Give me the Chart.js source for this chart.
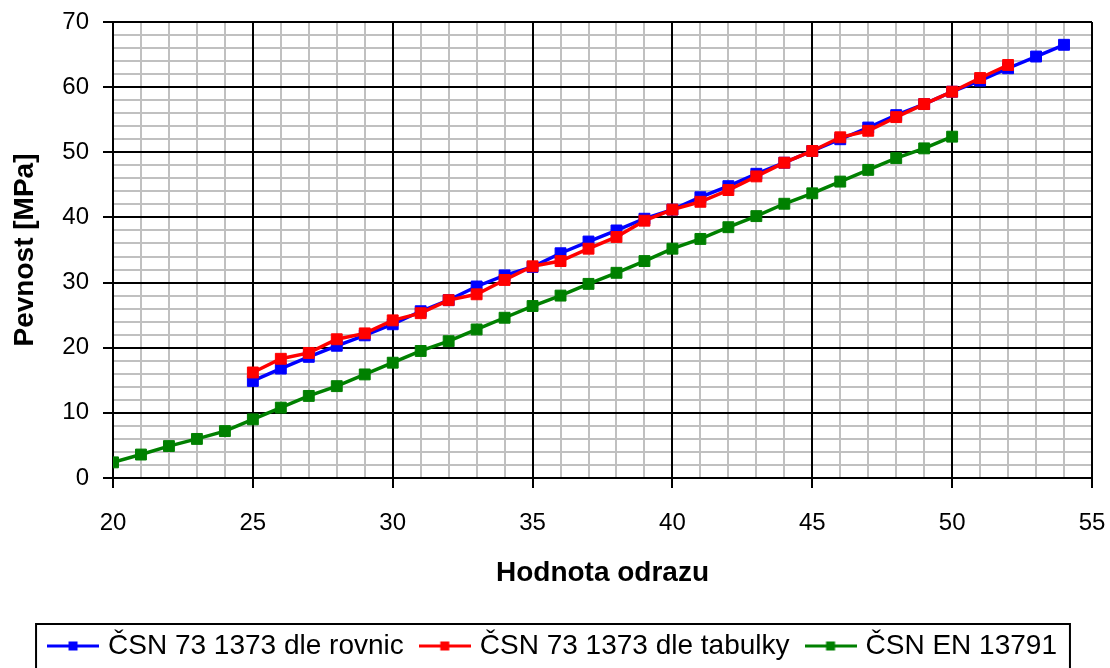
<!DOCTYPE html>
<html>
<head>
<meta charset="utf-8">
<style>
html,body{margin:0;padding:0;background:#fff;overflow:hidden}
#c{display:block}
</style>
<script src="https://cdn.jsdelivr.net/npm/chart.js@4/dist/chart.umd.min.js"></script>
</head>
<body>
<canvas id="c" width="1110" height="670"></canvas>
<script>
// ---- data ----
const seriesNames = ['ČSN 73 1373 dle rovnic', 'ČSN 73 1373 dle tabulky', 'ČSN EN 13791'];
const rovniceX = [25,26,27,28,29,30,31,32,33,34,35,36,37,38,39,40,41,42,43,44,45,46,47,48,49,50,51,52,53,54];
const rovniceY = [14.9,16.8,18.6,20.3,21.9,23.6,25.6,27.3,29.4,31.1,32.4,34.5,36.3,38.0,39.8,41.2,43.1,44.8,46.7,48.4,50.2,52.0,53.8,55.7,57.4,59.3,61.0,62.9,64.7,66.5];
const tabulkaX = [25,26,27,28,29,30,31,32,33,34,35,36,37,38,39,40,41,42,43,44,45,46,47,48,49,50,51,52];
const tabulkaY = [16.2,18.3,19.2,21.3,22.2,24.2,25.3,27.3,28.2,30.4,32.5,33.3,35.2,37.0,39.5,41.2,42.4,44.2,46.3,48.4,50.2,52.3,53.3,55.4,57.4,59.3,61.4,63.4];
const enX = [20,21,22,23,24,25,26,27,28,29,30,31,32,33,34,35,36,37,38,39,40,41,42,43,44,45,46,47,48,49,50];
const enY = [2.4,3.6,4.9,6.0,7.2,9.0,10.8,12.6,14.1,15.9,17.7,19.5,21.0,22.8,24.6,26.4,28.0,29.8,31.5,33.3,35.2,36.7,38.5,40.2,42.1,43.7,45.5,47.3,49.1,50.6,52.4];
const xTickLabels = [20,25,30,35,40,45,50,55];
const yTickLabels = [0,10,20,30,40,50,60,70];
const xTitle = 'Hodnota odrazu';
const yTitle = 'Pevnost [MPa]';

const colors = ['#0000FF', '#FF0000', '#008000'];
const toPts = (xs, ys) => xs.map((x, i) => ({x: x, y: ys[i]}));

Chart.defaults.font.family = "'Liberation Sans', Arial, sans-serif";
Chart.defaults.color = '#000';

function legendMarker(color) {
  const cv = document.createElement('canvas');
  cv.width = 52; cv.height = 12;
  const g = cv.getContext('2d');
  g.strokeStyle = color; g.lineWidth = 3;
  g.beginPath(); g.moveTo(0, 6); g.lineTo(52, 6); g.stroke();
  g.fillStyle = color; g.fillRect(21.5, 1.5, 9, 9);
  return cv;
}
const markers = colors.map(legendMarker);

const legendBorder = {
  id: 'legendBorder',
  afterDraw(chart) {
    const lg = chart.legend;
    if (!lg || !lg.legendHitBoxes || !lg.legendHitBoxes.length) return;
    const hb = lg.legendHitBoxes;
    const first = hb[0], last = hb[hb.length - 1];
    const left = first.left - 16;
    const right = last.left + last.width + 13;
    const top = lg.top + 12;
    const ctx = chart.ctx;
    ctx.save();
    ctx.strokeStyle = '#000';
    ctx.lineWidth = 2;
    ctx.strokeRect(left, top, right - left, 120);
    ctx.restore();
  }
};

const minorScale = (stepSize, axis, position) => ({
  type: 'linear', axis: axis, position: position,
  min: axis === 'x' ? xTickLabels[0] : yTickLabels[0],
  max: axis === 'x' ? xTickLabels[xTickLabels.length - 1] : yTickLabels[yTickLabels.length - 1],
  ticks: {display: false, stepSize: stepSize, autoSkip: false},
  grid: {color: '#c0c0c0', lineWidth: 2, drawTicks: false, z: -2},
  border: {display: false},
  afterFit: s => {
    if (axis === 'x') s.height = 0; else s.width = 0;
    s.paddingLeft = s.paddingRight = s.paddingTop = s.paddingBottom = 0;
  }
});

new Chart(document.getElementById('c'), {
  type: 'line',
  data: {
    datasets: [
      {label: seriesNames[0], data: toPts(rovniceX, rovniceY), borderColor: colors[0], backgroundColor: colors[0], order: 2},
      {label: seriesNames[1], data: toPts(tabulkaX, tabulkaY), borderColor: colors[1], backgroundColor: colors[1], order: 1},
      {label: seriesNames[2], data: toPts(enX, enY), borderColor: colors[2], backgroundColor: colors[2], order: 3}
    ]
  },
  options: {
    responsive: false,
    animation: false,
    devicePixelRatio: 1,
    layout: {padding: {top: 22, right: 18, left: 17, bottom: 0}},
    elements: {
      line: {borderWidth: 3.5, tension: 0, fill: false},
      point: {pointStyle: 'rect', radius: 7.7, borderWidth: 1, hoverRadius: 7.7}
    },
    scales: {
      xMinor: minorScale(1, 'x', 'bottom'),
      yMinor: minorScale(2, 'y', 'left'),
      x: {
        type: 'linear', min: 20, max: 55,
        ticks: {
          stepSize: 5, autoSkip: false, maxRotation: 0, padding: 21,
          font: {size: 24}, color: '#000'
        },
        grid: {color: '#000', lineWidth: 2, tickLength: 10, tickWidth: 2, tickColor: '#000'},
        border: {display: true, color: '#000', width: 2},
        title: {display: true, text: xTitle, font: {size: 28, weight: 'bold'}, color: '#000', padding: {top: 0, bottom: 22}},
        afterFit: s => { s.height = 134; s.paddingLeft = 0; s.paddingRight = 0; }
      },
      y: {
        type: 'linear', min: 0, max: 70,
        ticks: {
          stepSize: 10, autoSkip: false, padding: 14,
          font: {size: 24}, color: '#000'
        },
        grid: {color: '#000', lineWidth: 2, tickLength: 10, tickWidth: 2, tickColor: '#000'},
        border: {display: true, color: '#000', width: 2},
        title: {display: true, text: yTitle, font: {size: 28, weight: 'bold'}, color: '#000', padding: {top: -9, bottom: 0}},
        afterFit: s => { s.width = 96; s.paddingTop = 0; s.paddingBottom = 0; }
      }
    },
    plugins: {
      tooltip: {enabled: false},
      legend: {
        position: 'bottom',
        labels: {
          font: {size: 28}, color: '#000',
          usePointStyle: true, pointStyleWidth: 42, padding: 20,
          generateLabels: chart => {
            const items = Chart.defaults.plugins.legend.labels.generateLabels(chart);
            items.forEach(it => { it.pointStyle = markers[it.datasetIndex]; });
            return items;
          },
          sort: (a, b) => a.datasetIndex - b.datasetIndex
        }
      }
    }
  },
  plugins: [legendBorder]
});
</script>
</body>
</html>
